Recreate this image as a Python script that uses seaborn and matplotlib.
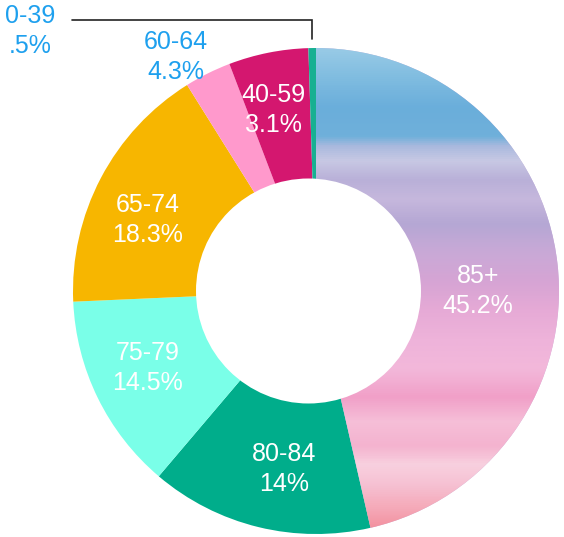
import numpy as np
import matplotlib
matplotlib.use("Agg")
import matplotlib.pyplot as plt
import seaborn as sns
from matplotlib.colors import LinearSegmentedColormap
from matplotlib.patches import Circle

# ---- data ----
age_groups = ["85+", "80-84", "75-79", "65-74", "60-64", "40-59", "0-39"]
# slice sizes as drawn in the picture (share of the full circle, %)
slice_sizes = [46.4, 14.8, 13.1, 16.8, 3.1, 5.3, 0.5]
# percentages printed on the labels
share_labels = ["45.2%", "14%", "14.5%", "18.3%", "4.3%", "3.1%", ".5%"]

# ---- style ----
slice_colors = ["#c9b3dc", "#00ad8b", "#7affe8", "#f7b600", "#ff99cc", "#d4176f", "#17b092"]
label_blue = "#1ea0ee"
W, H = 564, 537
cx, cy = 316, H - 291
R_out = 243
hole_dx, hole_r = -7.5, 112.5

sns.set_style("white")
plt.rcParams["font.family"] = ["Liberation Sans", "DejaVu Sans"]

fig = plt.figure(figsize=(W / 100, H / 100), dpi=100)
ax = fig.add_axes([0, 0, 1, 1])

wedges, _ = ax.pie(slice_sizes, colors=slice_colors, startangle=90, counterclock=False,
                   radius=R_out, center=(cx, cy),
                   wedgeprops=dict(linewidth=0))
ax.set_xlim(0, W)
ax.set_ylim(0, H)
ax.set_aspect("equal")
ax.axis("off")

# gradient fill for the 85+ slice
grad_stops = [(0.0, "#98cae6"), (0.06, "#7fbce0"), (0.12, "#6aaedb"), (0.18, "#6fb0da"),
              (0.2, "#a9b9de"), (0.23, "#c8c9e4"), (0.27, "#b9b0d8"), (0.31, "#c6b8dd"),
              (0.36, "#b5a7d4"), (0.42, "#c9a9d7"), (0.48, "#d6a4d4"), (0.54, "#e6aad6"),
              (0.6, "#eeb3da"), (0.66, "#f3b8da"), (0.72, "#f1a0c8"), (0.77, "#f6bfd8"),
              (0.82, "#f4b3cf"), (0.86, "#f8d0df"), (0.9, "#f6c1d3"), (0.95, "#f5a9b8"),
              (1.0, "#f28a98")]
cmap = LinearSegmentedColormap.from_list("grad", grad_stops)
gimg = np.linspace(0, 1, 500).reshape(-1, 1)
im = ax.imshow(gimg, cmap=cmap, aspect="auto",
               extent=(cx - R_out, cx + R_out, cy - R_out, cy + R_out),
               origin="upper", zorder=wedges[0].get_zorder() + 0.1)
im.set_clip_path(wedges[0])

# donut hole
ax.add_patch(Circle((cx + hole_dx, cy), hole_r, facecolor="white", edgecolor="none", zorder=3))

# labels (pixel layout positions)
label_pos = {
    "85+": (478, 291, "white"),
    "80-84": (284, 469, "white"),
    "75-79": (148, 368, "white"),
    "65-74": (148, 220, "white"),
    "40-59": (273, 110, "white"),
    "60-64": (176, 57, label_blue),
    "0-39": (30, 31, label_blue),
}
for name, lab in zip(age_groups, share_labels):
    x, y, col = label_pos[name]
    ax.text(x, H - y, f"{name}\n{lab}", ha="center", va="center", color=col,
            fontsize=18, linespacing=1.3, zorder=5)

# leader line for 0-39
w = wedges[-1]
mid = np.deg2rad((w.theta1 + w.theta2) / 2)
lx = cx + R_out * np.cos(mid)
ly = cy + R_out * np.sin(mid)
ax.plot([lx, lx, 72], [ly + 9, H - 19.5, H - 19.5], color="#222222", lw=1.2,
        solid_joinstyle="miter", zorder=4)

fig.savefig("out.png", dpi=100)
